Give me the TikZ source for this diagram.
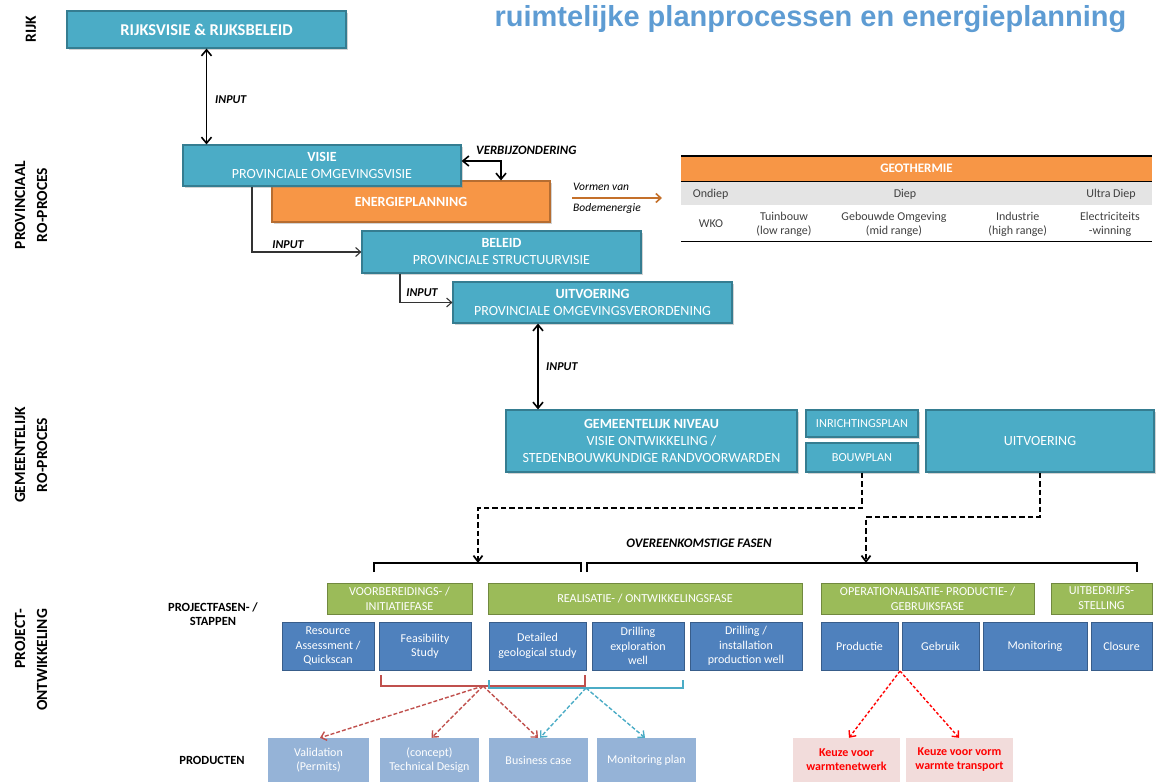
\documentclass[tikz,border=0pt]{standalone}
\usepackage{fontspec}
\setmainfont{Carlito}
\newfontfamily\titlefont{Liberation Sans}
\usetikzlibrary{arrows.meta,shadows}

\definecolor{aquaF}{HTML}{4BACC6}
\definecolor{aquaD}{HTML}{357D91}
\definecolor{orangeF}{HTML}{F79646}
\definecolor{orangeD}{HTML}{B66D31}
\definecolor{greenF}{HTML}{9BBB59}
\definecolor{greenD}{HTML}{71893F}
\definecolor{blueF}{HTML}{4F81BD}
\definecolor{blueD}{HTML}{385D8A}
\definecolor{prodF}{HTML}{95B3D7}
\definecolor{pinkF}{HTML}{F2DCDB}
\definecolor{redA}{HTML}{C0504D}
\definecolor{titleC}{HTML}{5E9CD3}
\definecolor{brownA}{HTML}{C4702A}
\definecolor{grayRow}{HTML}{E4E4E4}
\definecolor{tabText}{HTML}{404040}

\tikzset{
  aqua/.style={draw=aquaD, line width=1.2pt, fill=aquaF, text=white, align=center,
    inner sep=0pt, font=\fontsize{14}{17}\selectfont,
    drop shadow={shadow xshift=2pt, shadow yshift=-2pt, opacity=0.35}},
  orangebox/.style={aqua, draw=orangeD, fill=orangeF},
  phasebox/.style={draw=greenD, line width=1pt, fill=greenF, text=white, align=center,
    inner sep=0pt, font=\fontsize{12.2}{15}\selectfont, minimum height=31pt},
  stepbox/.style={draw=blueD, line width=1pt, fill=blueF, text=white, align=center,
    inner sep=0pt, font=\fontsize{12}{14.3}\selectfont, minimum height=48pt},
  prodbox/.style={fill=prodF, text=white, align=center, inner sep=0pt,
    font=\fontsize{12}{14}\selectfont, minimum height=44pt},
  keuzebox/.style={fill=pinkF, text=red, align=center, inner sep=0pt,
    font=\bfseries\fontsize{12}{14}\selectfont, minimum height=44pt},
  sidelab/.style={font=\bfseries\fontsize{15.5}{22}\selectfont, rotate=90, align=center},
  rowlab/.style={font=\bfseries\fontsize{12.5}{14.5}\selectfont, align=center},
  arrlab/.style={font=\bfseries\itshape\fontsize{12}{14}\selectfont, inner sep=0pt},
  tabtxt/.style={text=tabText, font=\fontsize{12}{14}\selectfont, align=center},
  dbl/.style={line width=1.6pt,
    {Straight Barb[length=6pt,width=10pt]}-{Straight Barb[length=6pt,width=10pt]}},
  feed/.style={line width=1.1pt, draw=black!80, -{Straight Barb[length=5pt,width=9pt]}},
  dsh/.style={line width=1.7pt, dash pattern=on 5.5pt off 3pt,
    -{Straight Barb[length=6pt,width=9pt]}},
  brk/.style={line width=1.8pt},
  rdash/.style={line width=1.4pt, draw=redA, dash pattern=on 4pt off 2pt,
    -{Straight Barb[length=5pt,width=9pt]}},
  cdash/.style={rdash, draw=aquaF},
  kdash/.style={line width=1.4pt, draw=red, dash pattern=on 3pt off 2pt,
    -{Straight Barb[length=5pt,width=9pt]}},
}

\begin{document}
\begin{tikzpicture}[x=1pt,y=-1pt]
\useasboundingbox (0,0) rectangle (1156,782);
\clip (0,0) rectangle (1156,782);

% title
\node[font=\titlefont\bfseries\fontsize{29}{30}\selectfont, text=titleC, anchor=base]
  (title) at (810.5,26) {ruimtelijke planprocessen en energieplanning};

% level labels on the left
\node[sidelab] (lrijk) at (31,29) {RIJK};
\node[sidelab] (lprov) at (31,205) {PROVINCIAAL\\RO-PROCES};
\node[sidelab] (lgem) at (31,455) {GEMEENTELIJK\\RO-PROCES};
\node[sidelab, align=right] (lproj) at (31,660) {PROJECT-\\ONTWIKKELING};

% national and provincial process
\node[aqua, minimum width=279pt, minimum height=37pt, font=\bfseries\fontsize{16.5}{18}\selectfont]
  (rijk) at (206.5,29.5) {RIJKSVISIE \& RIJKSBELEID};
\node[orangebox, minimum width=278pt, minimum height=41pt] (energie) at (411,201.5)
  {\textbf{ENERGIEPLANNING}};
\node[aqua, minimum width=278pt, minimum height=41pt] (visie) at (322,165.5)
  {\textbf{VISIE}\\PROVINCIALE OMGEVINGSVISIE};
\node[aqua, minimum width=279pt, minimum height=42pt] (beleid) at (501.5,252)
  {\textbf{BELEID}\\PROVINCIALE STRUCTUURVISIE};
\node[aqua, minimum width=279pt, minimum height=41pt] (uitvp) at (592.5,302.5)
  {\textbf{UITVOERING}\\PROVINCIALE OMGEVINGSVERORDENING};

% municipal process
\node[aqua, minimum width=291pt, minimum height=62pt] (gem) at (651.5,441)
  {\textbf{GEMEENTELIJK NIVEAU}\\VISIE ONTWIKKELING /\\STEDENBOUWKUNDIGE RANDVOORWARDEN};
\node[aqua, minimum width=112pt, minimum height=27pt, font=\fontsize{12.3}{14}\selectfont]
  (inr) at (862,423.5) {INRICHTINGSPLAN};
\node[aqua, minimum width=112pt, minimum height=29pt, font=\fontsize{12.3}{14}\selectfont]
  (bouw) at (862,457.5) {BOUWPLAN};
\node[aqua, minimum width=228pt, minimum height=62pt] (uitvg) at (1040,441) {UITVOERING};

% connectors between the levels
\coordinate (xa) at (538,0);
\draw[dbl] (rijk.south) -- (rijk.south |- visie.north);
\node[arrlab, anchor=west] (in1) at (215,100) {INPUT};
\draw[dbl] ([yshift=4.5pt]visie.east) -| ([xshift=90pt]energie.north);
\node[arrlab, anchor=west, font=\bfseries\itshape\fontsize{12.8}{14}\selectfont] (verb) at (476,150) {VERBIJZONDERING};
\draw[feed] ([xshift=-70pt]visie.south) |- (beleid.west);
\node[arrlab] (in2) at (288,245) {INPUT};
\draw[feed] ([xshift=-101.5pt]beleid.south) |- (uitvp.west);
\node[arrlab] (in3) at (422,292.5) {INPUT};
\draw[dbl] (xa |- uitvp.south) -- (xa |- gem.north);
\node[arrlab, anchor=west] (in4) at (546,366.5) {INPUT};

% forms of soil energy
\coordinate (vs) at (572,198);
\coordinate (ve) at (662,198);
\draw[line width=1.6pt, draw=brownA, -{Straight Barb[length=5pt,width=9pt]}] (vs) -- (ve);
\node[font=\itshape\fontsize{11.5}{13}\selectfont, anchor=west, inner sep=0pt] (vorm1) at (573,187) {Vormen van};
\node[font=\itshape\fontsize{11.5}{13}\selectfont, anchor=west, inner sep=0pt] (vorm2) at (573,208) {Bodemenergie};

% geothermal table
\node[fill=orangeF, minimum width=471pt, minimum height=25pt, inner sep=0pt, text=white,
  font=\bfseries\fontsize{13}{15}\selectfont] (geo) at (916.5,168.5) {GEOTHERMIE};
\node[fill=grayRow, minimum width=471pt, minimum height=23pt, inner sep=0pt] (rowa) at (916.5,193.5) {};
\draw[line width=1.6pt] (geo.north west) -- (geo.north east);
\draw[line width=0.8pt] (geo.south west) -- (geo.south east);
\draw[line width=1.6pt] (681,241.5) -- (1152,241.5);
\node[tabtxt] (t11) at (710.7,194) {Ondiep};
\node[tabtxt] (t12) at (905,194) {Diep};
\node[tabtxt] (t13) at (1111,194) {Ultra Diep};
\node[tabtxt] (t21) at (711,224) {WKO};
\node[tabtxt] (t22) at (784,224) {Tuinbouw\\(low range)};
\node[tabtxt] (t23) at (894,224) {Gebouwde Omgeving\\(mid range)};
\node[tabtxt] (t24) at (1017.7,224) {Industrie\\(high range)};
\node[tabtxt] (t25) at (1110,224) {Electriciteits\\-winning};

% matching phases
\coordinate (d1) at (0,508);
\coordinate (b1) at (478,563);
\coordinate (d2) at (0,517);
\coordinate (b2) at (866,563);
\draw[dsh] (bouw.south) -- (bouw.south |- d1) -| (b1);
\draw[dsh] (uitvg.south) -- (uitvg.south |- d2) -| (b2);
\draw[brk] (374,572) -- (374,563) -- (581,563) -- (581,572);
\draw[brk] (587,572) -- (587,563) -- (1137,563) -- (1137,572);
\node[arrlab, font=\bfseries\itshape\fontsize{13}{14}\selectfont] (fasen) at (699,543) {OVEREENKOMSTIGE FASEN};

% project phases
\node[rowlab] (lfasen) at (213,614) {PROJECTFASEN- /\\STAPPEN};
\node[phasebox, minimum width=145pt] (voor) at (399.5,598.5) {VOORBEREIDINGS- /\\INITIATIEFASE};
\node[phasebox, minimum width=314pt] (real) at (645,598.5) {REALISATIE- / ONTWIKKELINGSFASE};
\node[phasebox, minimum width=213pt] (oper) at (927.5,598.5) {OPERATIONALISATIE- PRODUCTIE- /\\GEBRUIKSFASE};
\node[phasebox, minimum width=101pt] (uitb) at (1101.5,598.5) {UITBEDRIJFS-\\STELLING};

\node[stepbox, minimum width=92pt] (res) at (328,646) {Resource\\Assessment /\\Quickscan};
\node[stepbox, minimum width=92pt] (feas) at (425,646) {Feasibility\\Study};
\node[stepbox, minimum width=97pt] (det) at (537.5,646) {Detailed\\geological study};
\node[stepbox, minimum width=92pt] (dexp) at (638,646) {Drilling\\exploration\\well};
\node[stepbox, minimum width=112pt] (dprod) at (746,646) {Drilling /\\installation\\production well};
\node[stepbox, minimum width=77pt] (prod) at (859.5,646) {Productie};
\node[stepbox, minimum width=77pt] (gebr) at (940.5,646) {Gebruik};
\node[stepbox, minimum width=104pt] (mon) at (1035,646) {Monitoring};
\node[stepbox, minimum width=61pt] (clos) at (1121.5,646) {Closure};

% products
\node[rowlab] (lprod) at (212,760) {PRODUCTEN};
\node[prodbox, minimum width=101pt] (val) at (318.5,760) {Validation\\(Permits)};
\node[prodbox, minimum width=99pt] (tech) at (429.5,760) {(concept)\\Technical Design};
\node[prodbox, minimum width=99pt] (bus) at (538.5,760) {Business case};
\node[prodbox, minimum width=99pt] (monp) at (646.5,760) {Monitoring plan};
\node[keuzebox, minimum width=107pt] (keu1) at (846.5,760) {Keuze voor\\warmtenetwerk};
\node[keuzebox, minimum width=107pt] (keu2) at (959.5,760) {Keuze voor vorm\\warmte transport};

% brackets over the steps and arrows to the products
\draw[line width=1.3pt, draw=redA] (381,675) -- (381,686) -- (585,686) -- (585,675);
\draw[line width=1.3pt, draw=aquaF] (489,680) -- (489,688) -- (683,688) -- (683,680);
\coordinate (rb) at (483,686);
\coordinate (cb) at (586,688);
\draw[rdash] (rb) -- ([xshift=1.5pt]val.north);
\draw[rdash] (rb) -- ([xshift=2pt]tech.north);
\draw[rdash] (rb) -- ([xshift=-0.5pt]bus.north);
\draw[cdash] (cb) -- ([xshift=1.5pt]bus.north);
\draw[cdash] (cb) -- ([xshift=-1.5pt]monp.north);
\coordinate (kp) at (900,671);
\draw[kdash] (kp) -- ([xshift=2.5pt]keu1.north);
\draw[kdash] (kp) -- ([xshift=-0.5pt]keu2.north);
\end{tikzpicture}
\end{document}
